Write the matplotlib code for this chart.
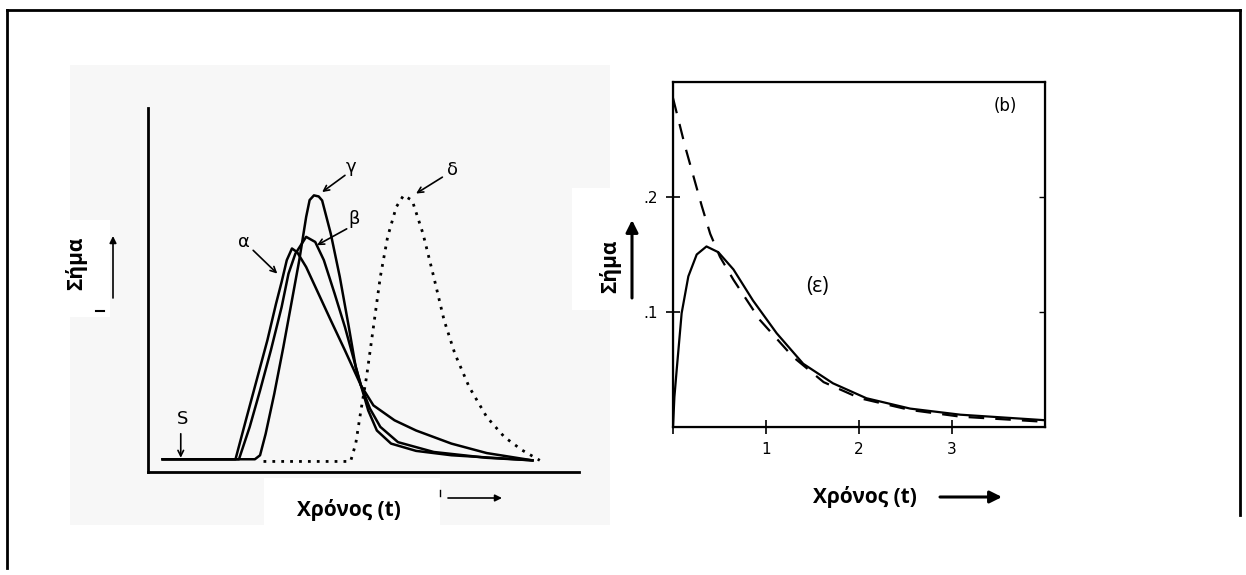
import matplotlib.pyplot as plt
from matplotlib.patches import Rectangle

# left panel, arbitrary units (t, signal) on 0-100 scales
alpha_t = [3.4, 20.3, 22.7, 25.2, 27.7, 29.7, 31.0, 32.2, 33.4, 34.6, 36.7, 39.2, 42.4, 45.7, 49.4, 52.3, 57.2, 62.2, 70.4, 78.6, 89.2]
alpha_s = [3.5, 3.5, 14.2, 25.2, 36.2, 46.2, 52.2, 58.2, 61.4, 60.4, 56.3, 49.9, 41.7, 33.4, 23.8, 18.3, 14.2, 11.4, 7.8, 5.2, 3.2]

beta_t = [3.4, 21.1, 23.6, 26.0, 28.5, 31.0, 32.6, 34.2, 36.7, 38.8, 40.8, 43.3, 45.7, 47.8, 49.4, 51.5, 53.9, 58.0, 66.3, 78.6, 89.2]
beta_s = [3.5, 3.5, 12.4, 22.4, 33.4, 45.3, 54.5, 60.0, 64.6, 63.2, 58.2, 49.0, 39.8, 30.7, 23.8, 17.4, 12.4, 8.2, 5.5, 3.9, 3.2]

gamma_t = [3.4, 24.8, 26.0, 27.3, 29.3, 31.4, 33.4, 35.1, 36.7, 37.5, 38.5, 39.6, 40.4, 42.4, 44.5, 46.6, 48.2, 49.4, 51.1, 53.1, 56.4, 62.2, 70.4, 82.7, 89.2]
gamma_s = [3.5, 3.5, 4.6, 10.5, 21.5, 34.3, 47.2, 58.2, 70.1, 74.7, 76.0, 75.7, 74.6, 65.5, 53.6, 39.8, 28.8, 23.8, 16.9, 11.4, 7.8, 5.8, 4.6, 3.7, 3.2]

delta_t = [26.8, 47.0, 48.2, 49.4, 50.7, 52.3, 53.9, 55.6, 57.6, 59.3, 61.3, 63.8, 66.3, 68.7, 71.2, 74.5, 78.6, 82.7, 86.8, 90.9]
delta_s = [2.9, 2.9, 7.8, 16.9, 26.1, 39.8, 53.6, 64.6, 72.8, 76.0, 74.6, 65.5, 53.6, 41.7, 32.5, 23.4, 15.1, 9.6, 6.0, 3.2]

# right panel (b)
solid_x = [0, 0.015, 0.04, 0.093, 0.165, 0.255, 0.36, 0.487, 0.65, 0.86, 1.115, 1.40, 1.72, 2.08, 2.55, 3.09, 3.98]
solid_y = [0, 0.026, 0.050, 0.099, 0.131, 0.150, 0.157, 0.152, 0.137, 0.110, 0.0815, 0.055, 0.038, 0.025, 0.016, 0.0107, 0.006]

dash_x = [0, 0.13, 0.22, 0.31, 0.40, 0.505, 0.65, 0.935, 1.29, 1.62, 2.01, 2.55, 3.09, 3.98]
dash_y = [0.286, 0.244, 0.218, 0.192, 0.168, 0.148, 0.128, 0.093, 0.061, 0.039, 0.025, 0.0148, 0.009, 0.0046]

xticks_b = [1, 2, 3]
yticks_b = [0.1, 0.2]
yticklabels_b = ['.1', '.2']

W, H = 1246, 575
lblfont = ['Open Sans', 'DejaVu Sans']

fig = plt.figure(figsize=(W / 100, H / 100), dpi=100)

# background / annotation layer in pixel coords
bg = fig.add_axes([0, 0, 1, 1], zorder=0)
bg.set_xlim(0, W)
bg.set_ylim(H, 0)
bg.axis('off')
bg.add_patch(Rectangle((70, 65), 540, 460, color='#f7f7f7', lw=0))
bg.add_patch(Rectangle((58, 220), 52, 97, color='white', lw=0))
bg.add_patch(Rectangle((264, 478), 176, 50, color='white', lw=0))
bg.add_patch(Rectangle((572, 188), 40, 122, color='white', lw=0))
bg.plot([7, 7], [10, 568], color='black', lw=2)
bg.plot([7, 1240], [10, 10], color='black', lw=2)
bg.plot([1240, 1240], [10, 515], color='black', lw=2)

# left panel
ax1 = fig.add_axes([148 / W, 1 - 472 / H, 431 / W, 364 / H], zorder=1)
ax1.patch.set_alpha(0)
ax1.set_xlim(0, 100)
ax1.set_ylim(0, 100)
ax1.spines[['top', 'right']].set_visible(False)
ax1.spines[['left', 'bottom']].set_linewidth(2)
ax1.set_xticks([])
ax1.set_yticks([])
ax1.plot(alpha_t, alpha_s, color='black', lw=1.8)
ax1.plot(beta_t, beta_s, color='black', lw=1.8)
ax1.plot(gamma_t, gamma_s, color='black', lw=1.8)
ax1.plot(delta_t, delta_s, color='black', lw=2, linestyle=(0, (1, 2.2)))

arr = dict(arrowstyle='->', lw=1.2, color='black', shrinkA=0, shrinkB=0)
lf = dict(fontsize=13, family='DejaVu Sans', ha='center', va='center')
ax1.text(22.3, 63.3, 'α', **lf)
ax1.annotate('', xy=(30.0, 54.5), xytext=(24.4, 60.9), arrowprops=arr)
ax1.text(47.8, 69.6, 'β', **lf)
ax1.annotate('', xy=(39.2, 62.3), xytext=(46.1, 66.8), arrowprops=arr)
ax1.text(47.2, 83.8, 'γ', **lf)
ax1.annotate('', xy=(40.4, 76.9), xytext=(45.7, 81.5), arrowprops=arr)
ax1.text(70.6, 82.9, 'δ', **lf)
ax1.annotate('', xy=(62.2, 76.5), xytext=(68.3, 81.0), arrowprops=arr)
ax1.text(8.0, 14.5, 'S', **lf)
ax1.annotate('', xy=(7.6, 3.9), xytext=(7.6, 10.5), arrowprops=arr)

# right panel
ax2 = fig.add_axes([673 / W, 1 - 427 / H, 372 / W, 345 / H], zorder=1)
ax2.set_xlim(0, 4)
ax2.set_ylim(0, 0.3)
for sp in ax2.spines.values():
    sp.set_linewidth(1.6)
ax2.plot(solid_x, solid_y, color='black', lw=1.6)
ax2.plot(dash_x, dash_y, color='black', lw=1.6, linestyle=(0, (7, 5)))
ax2.set_xticks([0] + xticks_b)
ax2.set_xticklabels([''] + [str(v) for v in xticks_b])
ax2.set_yticks(yticks_b)
ax2.set_yticklabels(yticklabels_b)
ax2.tick_params(direction='inout', length=10, width=1.2, labelsize=11, pad=6)

# short inward ticks on the right edge
ax2r = ax2.twinx()
ax2r.set_ylim(0, 0.3)
ax2r.set_yticks(yticks_b)
ax2r.set_yticklabels([])
ax2r.tick_params(direction='in', length=4, width=1)

ax2.text(3.57, 0.279, '(b)', fontsize=12, family='DejaVu Sans', ha='center', va='center')
ax2.text(1.55, 0.122, '(ε)', fontsize=15, family=['Open Sans', 'DejaVu Sans'], ha='center', va='center')

# axis labels and arrows
bg.text(76, 263, 'Σήμα', rotation=90, fontsize=15, fontweight='bold', family=lblfont, ha='center', va='center')
bg.annotate('', xy=(113, 236), xytext=(113, 298),
            arrowprops=dict(arrowstyle='-|>', lw=1.2, color='black', mutation_scale=10, shrinkA=0, shrinkB=0))
bg.plot([96, 104], [311, 311], color='black', lw=1.5)
bg.text(349, 510, 'Χρόνος (t)', fontsize=15, fontweight='bold', family=lblfont, ha='center', va='center')
bg.annotate('', xy=(502, 498), xytext=(448, 498),
            arrowprops=dict(arrowstyle='-|>', lw=1.2, color='black', mutation_scale=10, shrinkA=0, shrinkB=0))
bg.plot([440, 440], [490, 496], color='black', lw=1)

bg.text(610, 266, 'Σήμα', rotation=90, fontsize=15, fontweight='bold', family=lblfont, ha='center', va='center')
bg.annotate('', xy=(632, 220), xytext=(632, 298),
            arrowprops=dict(arrowstyle='-|>', lw=2.2, color='black', mutation_scale=18, shrinkA=0, shrinkB=0))
bg.text(865, 497, 'Χρόνος (t)', fontsize=15, fontweight='bold', family=lblfont, ha='center', va='center')
bg.annotate('', xy=(1002, 497), xytext=(940, 497),
            arrowprops=dict(arrowstyle='-|>', lw=2.2, color='black', mutation_scale=18, shrinkA=0, shrinkB=0))

fig.savefig('out.png', dpi=100)
